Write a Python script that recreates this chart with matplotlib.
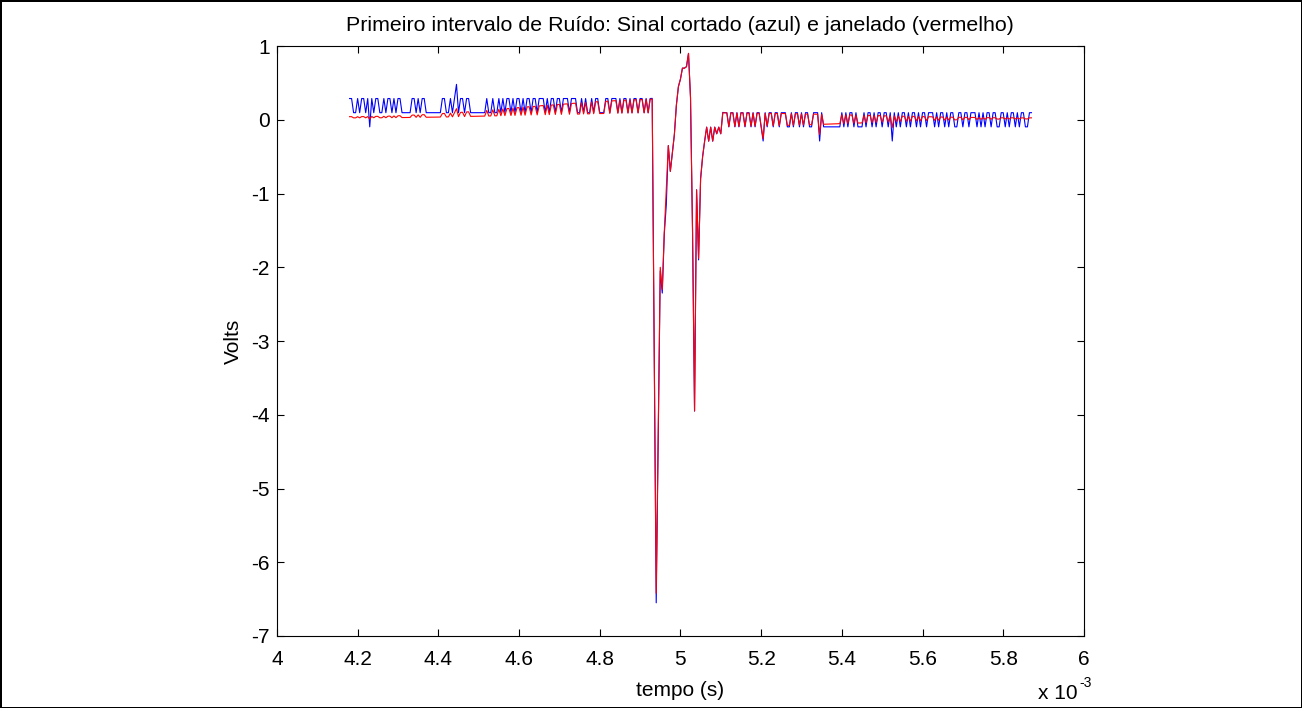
import numpy as np
import matplotlib
matplotlib.use("Agg")
import matplotlib.pyplot as plt

plt.rcParams['font.family'] = ['Liberation Sans', 'DejaVu Sans']
plt.rcParams['axes.unicode_minus'] = False

# time axis in ms, uniform sampling
t_start, t_end = 4.18, 5.87
q = 0.096  # quantisation step of the noise (V)

# blue noise before the pulse, in quantisation codes
blue_left = [
    3, 3, 1, 1, 3, 1, 3, 3, 1, 3,
    -1, 3, 1, 3, 3, 1, 1, 3, 1, 3,
    3, 1, 3, 1, 3, 3, 1, 1, 1, 1,
    1, 3, 3, 1, 3, 1, 3, 3, 1, 1,
    1, 1, 1, 1, 1, 1, 3, 3, 1, 1,
    3, 1, 3, 5, 1, 3, 3, 1, 3, 3,
    1, 1, 1, 1, 1, 1, 1, 1, 3, 1,
    1, 3, 1, 1, 3, 1, 3, 1, 3, 3,
    1, 3, 1, 3, 3, 1, 3, 1, 3, 3,
    1, 3, 3, 1, 3, 3, 3, 1, 3, 1,
    3, 3, 1, 3, 3, 1, 3, 3, 3, 1,
    3, 3, 3, 1, 1, 3, 1, 3, 1, 1,
    3, 1, 3, 3, 1, 1, 1, 3, 3, 1,
    3, 3, 3, 1, 3, 1, 3, 3, 1, 3,
    1, 3, 3, 1, 3, 3, 1, 3, 1, 3,
]
# the pulse itself (V)
blue_pulse = [
    0.29, -3.2, -6.55, -4.3, -2.05, -2.35, -1.55, -1.15, -0.35, -0.7,
    -0.45, -0.2, 0.2, 0.45, 0.55, 0.7, 0.7, 0.72, 0.9, 0.3,
    -1.5, -3.95, -0.95, -1.9, -0.8, -0.5, -0.29, -0.1, -0.29, -0.1,
    -0.29, -0.1, -0.19, -0.1, -0.19, 0.1,
]
# blue noise after the pulse, in quantisation codes
blue_right = [
    1, 1, -1, 1, 1, -1, 1, -1, 1, 1,
    -1, 1, 1, -1, 1, -1, 1, 1, -1, -3,
    1, -1, 1, 1, -1, 1, 1, -1, 1, 1,
    1, -1, -1, 1, -1, 1, 1, -1, 1, -1,
    1, 1, -1, -1, 1, 1, 1, -3, 1, -1,
    -1, -1, -1, -1, -1, -1, -1, -1, 1, -1,
    1, -1, 1, 1, -1, 1, -1, -1, -1, 1,
    -1, 1, 1, -1, 1, -1, 1, 1, -1, 1,
    1, -1, 1, -3, 1, -1, 1, -1, 1, 1,
    -1, 1, -1, 1, 1, -1, 1, -1, 1, 1,
    -1, 1, 1, 1, -1, 1, -1, 1, 1, -1,
    1, -1, 1, 1, -1, -1, 1, 1, -1, 1,
    1, -1, 1, 1, 1, -1, 1, -1, 1, -1,
    1, 1, -1, 1, 1, -1, -1, 1, 1, -1,
    1, -1, 1, 1, -1, 1, -1, 1, 1, -1,
    -1, 1, 1,
]

# windowed signal (V)
red_left = [
    0.042, 0.042, 0.026, 0.026, 0.042, 0.026, 0.043, 0.043, 0.026, 0.043,
    0.010, 0.045, 0.027, 0.046, 0.046, 0.027, 0.027, 0.047, 0.028, 0.048,
    0.050, 0.028, 0.052, 0.029, 0.054, 0.055, 0.030, 0.030, 0.031, 0.031,
    0.032, 0.063, 0.064, 0.033, 0.066, 0.033, 0.068, 0.069, 0.034, 0.035,
    0.035, 0.035, 0.036, 0.036, 0.037, 0.037, 0.084, 0.086, 0.038, 0.039,
    0.090, 0.040, 0.095, 0.151, 0.042, 0.100, 0.102, 0.043, 0.106, 0.108,
    0.046, 0.046, 0.047, 0.048, 0.048, 0.049, 0.049, 0.050, 0.127, 0.051,
    0.052, 0.135, 0.053, 0.054, 0.143, 0.055, 0.148, 0.056, 0.151, 0.153,
    0.058, 0.157, 0.059, 0.163, 0.165, 0.061, 0.170, 0.062, 0.175, 0.177,
    0.065, 0.180, 0.182, 0.066, 0.188, 0.190, 0.193, 0.069, 0.197, 0.070,
    0.200, 0.202, 0.072, 0.206, 0.208, 0.073, 0.212, 0.214, 0.216, 0.075,
    0.221, 0.223, 0.225, 0.077, 0.078, 0.230, 0.079, 0.234, 0.080, 0.081,
    0.240, 0.082, 0.243, 0.245, 0.084, 0.084, 0.085, 0.250, 0.252, 0.086,
    0.256, 0.258, 0.259, 0.088, 0.262, 0.089, 0.265, 0.266, 0.090, 0.268,
    0.091, 0.271, 0.272, 0.092, 0.274, 0.275, 0.093, 0.277, 0.093, 0.279,
]
red_pulse = [
    0.28, -3.12, -6.42, -4.2, -2.0, -2.3, -1.52, -0.95, -0.35, -0.7,
    -0.45, -0.2, 0.2, 0.45, 0.55, 0.7, 0.7, 0.72, 0.9, 0.3,
    -1.5, -3.95, -0.95, -1.88, -0.8, -0.5, -0.29, -0.1, -0.29, -0.1,
    -0.29, -0.1, -0.19, -0.1, -0.19, 0.094,
]
red_right = [
    0.094, 0.094, -0.093, 0.094, 0.093, -0.092, 0.093, -0.091, 0.093, 0.093,
    -0.090, 0.092, 0.091, -0.088, 0.091, -0.087, 0.090, 0.089, -0.085, -0.256,
    0.088, -0.083, 0.087, 0.087, -0.082, 0.086, 0.085, -0.080, 0.085, 0.084,
    0.084, -0.076, -0.075, 0.082, -0.074, 0.081, 0.081, -0.072, 0.080, -0.070,
    0.078, 0.077, -0.067, -0.066, 0.076, 0.075, 0.075, -0.199, 0.073, -0.061,
    -0.060, -0.059, -0.058, -0.057, -0.056, -0.055, -0.054, -0.053, 0.067, -0.051,
    0.066, -0.050, 0.065, 0.064, -0.047, 0.063, -0.045, -0.044, -0.043, 0.060,
    -0.040, 0.059, 0.059, -0.037, 0.058, -0.035, 0.057, 0.056, -0.032, 0.054,
    0.053, -0.029, 0.053, -0.106, 0.052, -0.025, 0.051, -0.023, 0.048, 0.047,
    -0.021, 0.047, -0.019, 0.046, 0.046, -0.016, 0.045, -0.015, 0.044, 0.042,
    -0.012, 0.041, 0.041, 0.040, -0.009, 0.039, -0.008, 0.038, 0.038, -0.006,
    0.036, -0.004, 0.036, 0.035, -0.002, -0.001, 0.034, 0.034, 0.000, 0.033,
    0.032, 0.002, 0.032, 0.031, 0.031, 0.004, 0.030, 0.005, 0.030, 0.006,
    0.029, 0.029, 0.007, 0.028, 0.028, 0.009, 0.009, 0.027, 0.027, 0.010,
    0.027, 0.010, 0.027, 0.027, 0.010, 0.026, 0.011, 0.026, 0.026, 0.011,
    0.011, 0.026, 0.026,
]

blue = np.concatenate([np.array(blue_left) * q, blue_pulse, np.array(blue_right) * q])
red = np.concatenate([red_left, red_pulse, red_right])
t = np.linspace(t_start, t_end, len(blue))

fig = plt.figure(figsize=(13.02, 7.08), dpi=100)
fig.patch.set_edgecolor('black')
fig.patch.set_linewidth(2)
ax = fig.add_axes([0.2127, 0.1017, 0.6198, 0.8333])

ax.plot(t, blue, color='blue', lw=0.8)
ax.plot(t, red, color='red', lw=0.8)

ax.set_xlim(4, 6)
ax.set_ylim(-7, 1)
ax.set_xticks(np.arange(4, 6.01, 0.2))
ax.set_xticklabels(['4', '4.2', '4.4', '4.6', '4.8', '5', '5.2', '5.4', '5.6', '5.8', '6'])
ax.set_yticks(range(-7, 2))
ax.tick_params(direction='in', top=True, right=True, length=5, width=0.8,
               labelsize=15)
ax.tick_params(axis='x', pad=10)
ax.tick_params(axis='y', pad=5)
for s in ax.spines.values():
    s.set_linewidth(0.8)

ax.set_title('Primeiro intervalo de Ruído: Sinal cortado (azul) e janelado (vermelho)',
             fontsize=15.4, pad=11)
ax.set_xlabel('tempo (s)', fontsize=15, labelpad=9)
ax.set_ylabel('Volts', fontsize=15, labelpad=6)

# MATLAB style exponent under the right end of the x axis
ax.text(0.992, -0.097, 'x 10', transform=ax.transAxes, fontsize=15,
        ha='right', va='center')
ax.text(0.994, -0.080, '-3', transform=ax.transAxes, fontsize=10,
        ha='left', va='center')

fig.savefig('out.png', dpi=100, edgecolor=fig.get_edgecolor())
